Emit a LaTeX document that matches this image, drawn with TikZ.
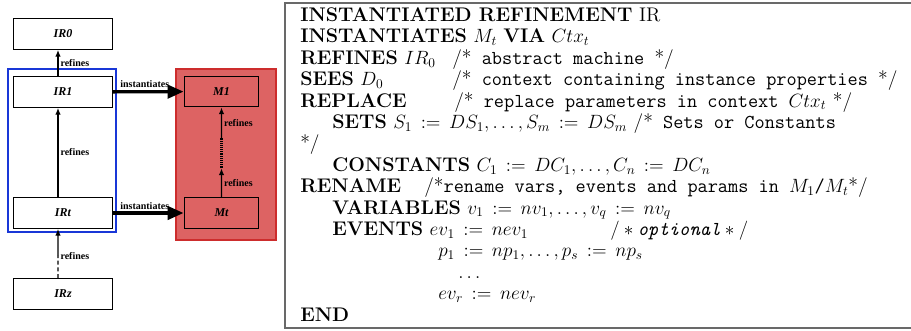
\documentclass[tikz,border=0pt]{standalone}
\usepackage{fontspec}
\newfontfamily\diafont{Liberation Serif}
\usetikzlibrary{arrows.meta,calc}
\definecolor{BoxRed}{RGB}{221,99,99}
\definecolor{BoxRedLine}{RGB}{205,45,45}
\definecolor{GroupBlue}{RGB}{25,55,215}
\definecolor{FrameGray}{RGB}{105,105,105}
\newcommand{\kw}[1]{\textbf{#1}}
\newcommand{\cmt}[1]{\texttt{#1}}
\newcommand{\asg}{\mathrel{\,:=\,}}
\newcommand{\codesize}{\fontsize{14.8}{17}\selectfont}

\begin{document}
\begin{tikzpicture}[
 x=0.75pt, y=-0.75pt,
 model/.style={draw, line width=0.9pt, minimum width=74pt, minimum height=23pt, inner sep=0pt, font=\diafont\bfseries\itshape\fontsize{9}{10}\selectfont},
 inst/.style={model, fill=BoxRed, minimum width=56pt},
 ref/.style={-{Latex[length=5pt,width=4pt]}, line width=0.8pt},
 insarr/.style={-{Triangle[length=12pt,width=10pt]}, line width=2.5pt},
 lbl/.style={inner sep=1.5pt, font=\diafont\bfseries\fontsize{7.5}{8}\selectfont},
 code/.style={anchor=base west, inner sep=0pt, font=\codesize}
]
\useasboundingbox (0,0) rectangle (911,331);

% groups
\draw[GroupBlue, line width=0.8pt] (8,69) rectangle (116,232);
\draw[BoxRedLine, fill=BoxRed, line width=0.8pt] (176,69) rectangle (276,240);

% refinement chain
\node[model] (IR0) at (63,34) {IR0};
\node[model] (IR1) at (63,92) {IR1};
\node[model] (IRt) at (63,213) {IRt};
\node[model] (IRz) at (63,294) {IRz};
\node[inst] (M1) at (221.5,91.5) {M1};
\node[inst] (Mt) at (221.5,213) {Mt};

\coordinate (zmid) at ($([xshift=-3.75pt]IRz.north)!0.45!([xshift=-3.75pt]IRt.south)$);
\coordinate (mlo) at ($(Mt.north)!0.32!(M1.south)$);
\coordinate (mhi) at ($(Mt.north)!0.66!(M1.south)$);

\draw[ref] ([xshift=-3.75pt]IR1.north) -- node[lbl, right]{refines} ([xshift=-3.75pt]IR0.south);
\draw[ref] ([xshift=-3.75pt]IRt.north) -- node[lbl, right]{refines} ([xshift=-3.75pt]IR1.south);
\draw[line width=0.8pt, densely dashed] ([xshift=-3.75pt]IRz.north) -- (zmid);
\draw[ref] (zmid) node[lbl, right]{refines} -- ([xshift=-3.75pt]IRt.south);

\draw[insarr] (IR1) -- node[lbl, above, pos=0.45]{instantiates} (M1);
\draw[insarr] (IRt) -- node[lbl, above, pos=0.45]{instantiates} (Mt);

\draw[ref] (Mt.north) -- node[lbl, right]{refines} (mlo);
\draw[line width=1.6pt, dash pattern=on 0.7pt off 0.7pt] (mlo) -- (mhi);
\draw[ref] (mhi) -- node[lbl, right]{refines} (M1.south);

% specification text
\draw[FrameGray, line width=1.1pt] (285,3) rectangle (930,328);
\node[code] (l1) at (300,21.5) {\kw{INSTANTIATED REFINEMENT} IR};
\node[code] (l2) at (300,42.9) {\kw{INSTANTIATES} $M_t$ \kw{VIA} $Ctx_t$};
\node[code] (l3) at (300,64.3) {\kw{REFINES} $IR_0$};
\node[code] (c3) at (452,64.3) {/*\cmt{ abstract machine }*/};
\node[code] (l4) at (300,85.7) {\kw{SEES} $D_0$};
\node[code] (c4) at (452,85.7) {/*\cmt{ context containing instance properties }*/};
\node[code] (l5) at (300,107.1) {\kw{REPLACE}};
\node[code] (c5) at (454,107.1) {/*\cmt{ replace parameters in context }$Ctx_t$ */};
\node[code] (l6) at (332,128.5) {\kw{SETS} $S_1 \asg DS_1, \ldots, S_m \asg DS_m$ /*\cmt{ Sets or Constants}};
\node[code] (l7) at (300,149.9) {*/};
\node[code] (l8) at (332,171.3) {\kw{CONSTANTS} $C_1 \asg DC_1, \ldots, C_n \asg DC_n$};
\node[code] (l9) at (300,192.7) {\kw{RENAME}};
\node[code] (c9) at (424,192.7) {/*\cmt{rename vars, events and params in }$M_1$\cmt{/}$M_t$*/};
\node[code] (l10) at (332,214.1) {\kw{VARIABLES} $v_1 \asg nv_1, \ldots, v_q \asg nv_q$};
\node[code] (l11) at (332,235.5) {\kw{EVENTS} $ev_1 \asg nev_1$};
\node[code] (c11) at (610,235.5) {$/*\mbox{\ttfamily\itshape optional}*/$};
\node[code] (l12) at (438,256.9) {$p_1 \asg np_1, \ldots, p_s \asg np_s$};
\node[code] (l13) at (458,278.3) {$\ldots$};
\node[code] (l14) at (438,299.7) {$ev_r \asg nev_r$};
\node[code] (l15) at (300,321.1) {\kw{END}};
\end{tikzpicture}
\end{document}
